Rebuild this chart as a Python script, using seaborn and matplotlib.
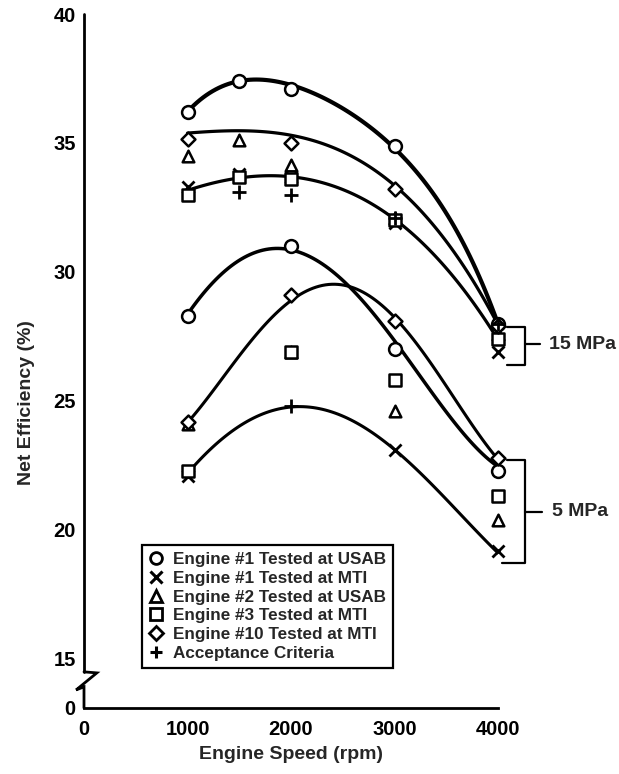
import numpy as np
import matplotlib
matplotlib.use("Agg")
import matplotlib.pyplot as plt
import seaborn as sns
from matplotlib.lines import Line2D

sns.set_theme(style="white")
plt.rcParams['font.family'] = ['Liberation Sans', 'DejaVu Sans']

# ---------------- data ----------------
speed = [1000, 1500, 2000, 3000, 4000]
nan = np.nan

# 15 MPa
e1_usab_15 = [36.2, 37.4, 37.1, 34.9, 28.0]
e1_mti_15 = [33.3, 33.8, 33.7, 31.9, 26.9]
e2_usab_15 = [34.5, 35.1, 34.15, 32.1, 27.6]
e3_mti_15 = [33.0, 33.7, 33.6, 32.0, 27.4]
e10_mti_15 = [35.15, nan, 35.0, 33.2, 27.9]
accept_15 = [nan, 33.1, 33.0, 32.1, 28.0]

# 5 MPa
e1_usab_5 = [28.3, nan, 31.0, 27.0, 22.3]
e1_mti_5 = [22.1, nan, nan, 23.1, 19.2]
e2_usab_5 = [24.1, nan, 26.9, 24.6, 20.4]
e3_mti_5 = [22.3, nan, 26.9, 25.8, 21.3]
e10_mti_5 = [24.2, nan, 29.1, 28.1, 22.8]
accept_5 = [nan, nan, 24.8, nan, nan]

# smooth trend curves
curve_x = [1000, 1500, 2000, 2500, 3000, 3500, 4000]
c15_a = [36.2, 37.45, 37.2, 36.3, 34.9, 32.2, 28.0]
c15_b = [35.35, 35.55, 35.3, 34.6, 33.3, 31.3, 27.9]
c15_c = [33.1, 33.8, 33.65, 33.1, 32.0, 30.3, 27.3]
c5_a = [28.4, 30.3, 31.0, 29.8, 27.0, 24.8, 22.4]
c5_b = [24.2, 26.6, 29.1, 29.45, 28.1, 25.7, 22.7]
c5_c = [22.2, 24.0, 24.8, 24.4, 23.1, 21.2, 19.1]

legend_labels = ["Engine #1 Tested at USAB", "Engine #1 Tested at MTI",
                 "Engine #2 Tested at USAB", "Engine #3 Tested at MTI",
                 "Engine #10 Tested at MTI", "Acceptance Criteria"]
y_ticks = [15, 20, 25, 30, 35, 40]
x_ticks = [0, 1000, 2000, 3000, 4000]

# ---------------- figure ----------------
fig = plt.figure(figsize=(6.19, 7.74), dpi=100)
ax = fig.add_axes([0.1357, 0.0853, 0.669, 0.8966])

Y0 = 13.1  # position of the "0" after the axis break

# curves
curves = [(c15_a, 3.0, 4), (c15_b, 2.3, 3), (c15_c, 2.3, 3),
          (c5_a, 2.5, 4), (c5_b, 2.2, 4), (c5_c, 2.2, 4)]
for cy, lw, order in curves:
    sns.regplot(x=curve_x, y=cy, order=order, ci=None, scatter=False, truncate=True,
                line_kws=dict(color='black', lw=lw, solid_capstyle='round', zorder=2), ax=ax)

series = [
    ('o', e1_usab_15, e1_usab_5),
    ('x', e1_mti_15, e1_mti_5),
    ('^', e2_usab_15, e2_usab_5),
    ('s', e3_mti_15, e3_mti_5),
    ('D', e10_mti_15, e10_mti_5),
    ('+', accept_15, accept_5),
]
sizes = {'o': 85, 'x': 75, '^': 70, 's': 70, 'D': 50, '+': 90}
handles = []
for (mk, v15, v5), lab in zip(series, legend_labels):
    for vals in (v15, v5):
        if mk in ('x', '+'):
            sns.scatterplot(x=speed, y=vals, marker=mk, s=sizes[mk], color='black',
                            linewidth=2.0, ax=ax, zorder=4, clip_on=False)
        else:
            sns.scatterplot(x=speed, y=vals, marker=mk, s=sizes[mk], color='white',
                            edgecolor='black', linewidth=1.8, ax=ax, zorder=4, clip_on=False)
    if mk in ('x', '+'):
        h = Line2D([], [], ls='none', marker=mk, color='black', markersize=9, markeredgewidth=2.2)
    else:
        h = Line2D([], [], ls='none', marker=mk, markerfacecolor='white', markeredgecolor='black',
                   markersize=8.5 if mk != 'D' else 7.5, markeredgewidth=2.0)
    handles.append(h)

ax.set_xlim(0, 4000)
ax.set_ylim(Y0, 40)
ax.set_xticks(x_ticks)
ax.set_xticklabels([str(t) for t in x_ticks])
ax.set_yticks([Y0] + y_ticks)
ax.set_yticklabels(['0'] + [str(t) for t in y_ticks])
ax.tick_params(axis='both', direction='in', length=7, width=1.8, labelsize=14.5,
               colors='black')
ax.tick_params(axis='x', pad=9)
ax.tick_params(axis='y', pad=6)
for t in ax.get_xticklabels() + ax.get_yticklabels():
    t.set_fontweight('bold')

for s in ['top', 'right', 'left']:
    ax.spines[s].set_visible(False)
ax.spines['bottom'].set_color('black')
ax.spines['bottom'].set_linewidth(2.0)

# left axis with break
tr = ax.get_yaxis_transform()
ax.plot([0, 0], [40, 14.5], color='black', lw=2.0, transform=tr, clip_on=False, zorder=5)
ax.plot([0, 0.031, -0.019, 0, 0], [14.5, 14.46, 13.8, 13.92, Y0], color='black', lw=2.0,
        transform=tr, clip_on=False, zorder=5, solid_joinstyle='miter')

ax.set_xlabel("Engine Speed (rpm)", fontsize=14, fontweight='bold')
ax.set_ylabel("Net Efficiency (%)", fontsize=14, fontweight='bold')
ax.xaxis.set_label_coords(0.5, -0.055)
ax.yaxis.set_label_coords(-0.118, 0.44)

# pressure brackets
kw = dict(color='black', lw=1.6, clip_on=False, zorder=5)
ax.plot([4087, 4261, 4261, 4087], [27.87, 27.87, 26.40, 26.40], **kw)
ax.plot([4261, 4406], [27.2, 27.2], **kw)
ax.text(4493, 27.2, "15 MPa", fontsize=14, fontweight='bold', va='center', ha='left')
ax.plot([4087, 4261, 4261, 4040], [22.71, 22.71, 18.72, 18.72], **kw)
ax.plot([4261, 4425], [20.7, 20.7], **kw)
ax.text(4522, 20.7, "5 MPa", fontsize=14, fontweight='bold', va='center', ha='left')

leg = ax.legend(handles, legend_labels, loc='lower left', bbox_to_anchor=(0.140, 0.058),
                frameon=True, fancybox=False, edgecolor='black', framealpha=1,
                prop=dict(size=12.3, weight='bold'), handlelength=0.9, handletextpad=0.5,
                labelspacing=0.22, borderpad=0.4, borderaxespad=0)
leg.get_frame().set_linewidth(1.6)
leg.set_zorder(6)

fig.savefig("out.png", dpi=100)
